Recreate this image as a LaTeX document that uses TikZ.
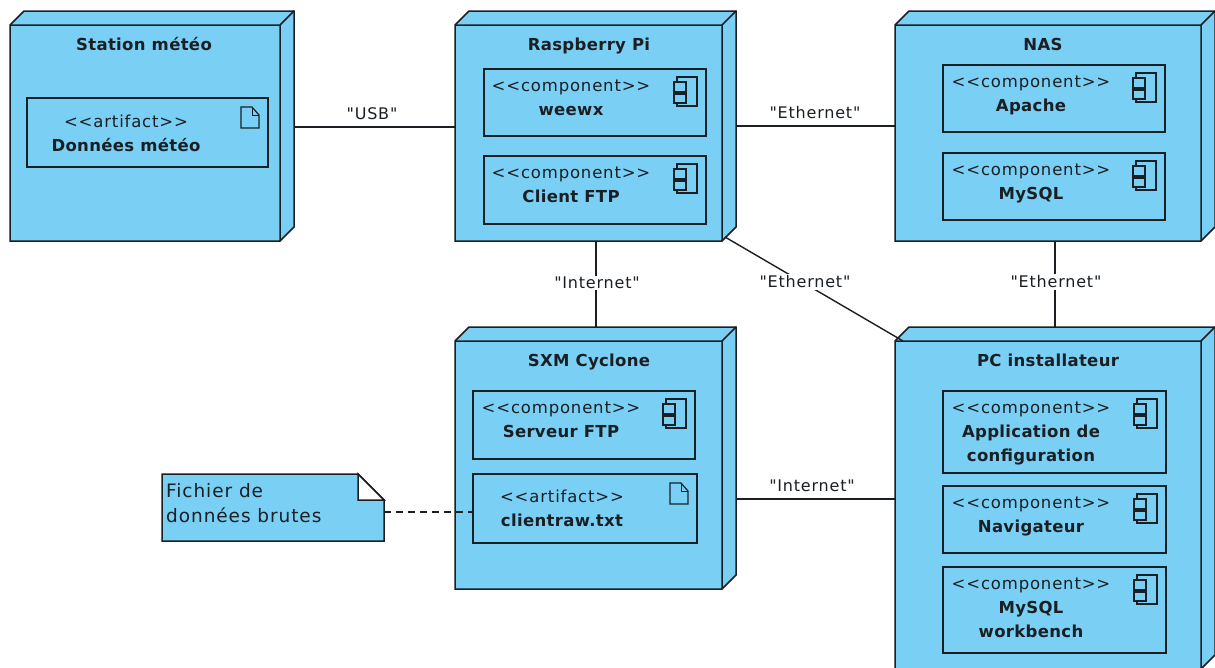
\documentclass[tikz,border=0pt]{standalone}
\usepackage{fontspec}
\newfontfamily\umlfont[LetterSpace=2]{DejaVu Sans}
\newfontfamily\labelfont[LetterSpace=5]{DejaVu Sans}
\usetikzlibrary{calc}
\definecolor{umlblue}{HTML}{7ACFF5}
\definecolor{umlline}{HTML}{1A1F24}
\tikzset{
  x=1pt,y=-1pt,
  edge/.style={draw=umlline,line width=1.4pt},
  face/.style={draw=umlline,line width=1.5pt,fill=umlblue,line join=miter},
  frame/.style={draw=umlline,line width=1.5pt,fill=umlblue,inner sep=0pt,outer sep=0pt,rectangle},
  hull/.style={inner sep=0pt,outer sep=0pt,rectangle},
  title/.style={font=\umlfont\fontsize{16.5}{24}\selectfont\bfseries,text=umlline,inner sep=0pt,align=center},
  stereo/.style={font=\labelfont\fontsize{16.5}{20}\selectfont,text=umlline,inner sep=0pt},
  conn/.style={font=\labelfont\fontsize{16}{18}\selectfont,text=umlline,inner sep=1.5pt},
  connfill/.style={conn,fill=white},
  icon/.style={draw=umlline,line width=1.1pt,fill=umlblue},
}
% id, x1, y1, x2, y2 of the front face, title centre x, title
\newcommand{\umlnode}[7]{%
  \pgfmathsetmacro{\cxv}{(#2+#4+14)/2}\pgfmathsetmacro{\cyv}{(#3+#5-14)/2}%
  \pgfmathsetmacro{\wv}{#4-#2+14}\pgfmathsetmacro{\hv}{#5-#3+14}%
  \node[hull,minimum width=\wv pt,minimum height=\hv pt] (#1) at (\cxv,\cyv) {};
  \draw[face] (#2,#3) -- (#2+14,#3-14) -- (#4+14,#3-14) -- (#4+14,#5-14) -- (#4,#5) -- (#2,#5) -- cycle;
  \draw[face,fill=none] (#2,#3) -- (#4,#3) -- (#4,#5) (#4,#3) -- (#4+14,#3-14);
  \node[title,anchor=base] (#1-title) at (#6,#3+25) {#7};
}
% id, x1, y1, x2, y2, text centre x, stereotype, name, vertical offset
\newcommand{\umlbox}[9]{%
  \pgfmathsetmacro{\cxv}{(#2+#4)/2}\pgfmathsetmacro{\cyv}{(#3+#5)/2}%
  \pgfmathsetmacro{\wv}{#4-#2}\pgfmathsetmacro{\hv}{#5-#3}%
  \node[frame,minimum width=\wv pt,minimum height=\hv pt] (#1) at (\cxv,\cyv) {};
  \node[stereo,anchor=base] (#1-st) at (#6,#3+22+#9) {<<#7>>};
  \node[title,anchor=north] (#1-nm) at (#6,#3+31+#9) {\vphantom{Ág}#8};
}
\newcommand{\compicon}[3]{%
  \draw[icon] (#1-29,#2+8) rectangle (#1-9,#2+37);
  \draw[icon] (#1-32,#2+13) rectangle (#1-20,#2+23);
  \draw[icon] (#1-32,#2+25) rectangle (#1-20,#2+34);
}
\newcommand{\artficon}[2]{%
  \draw[draw=umlline,line width=1.2pt,fill=none,line join=miter] (#1-27,#2+9) -- (#1-16,#2+9) -- (#1-9,#2+17) -- (#1-9,#2+30) -- (#1-27,#2+30) -- cycle;
  \draw[draw=umlline,line width=1pt] (#1-16,#2+9) -- (#1-16,#2+17) -- (#1-9,#2+17);
}
\begin{document}
\begin{tikzpicture}
\useasboundingbox (0,0) rectangle (1215,667);
\clip (0,0) rectangle (1215,667);
\fill[white] (0,0) rectangle (1215,667);

\umlnode{station}{10}{25}{280}{241}{144}{Station météo}
\umlbox{donnees}{27}{98}{268}{167}{126}{artifact}{Données météo}{7}
\artficon{268}{98}

\umlnode{rpi}{455}{25}{722}{241}{589}{Raspberry Pi}
\umlbox{weewx}{484}{69}{706}{136}{571}{component}{weewx}{0}
\compicon{706}{69}{}
\umlbox{ftpc}{484}{156}{706}{224}{571}{component}{Client FTP}{0}
\compicon{706}{156}{}

\umlnode{nas}{895}{25}{1201}{241}{1043}{NAS}
\umlbox{apache}{943}{65}{1165}{132}{1031}{component}{Apache}{0}
\compicon{1165}{65}{}
\umlbox{mysql}{943}{153}{1165}{220}{1031}{component}{MySQL}{0}
\compicon{1165}{153}{}

\umlnode{sxm}{455}{341}{722}{589}{589}{SXM Cyclone}
\umlbox{ftps}{473}{391}{695}{459}{561}{component}{Serveur FTP}{0}
\compicon{695}{391}{}
\umlbox{raw}{473}{474}{697}{543}{562}{artifact}{clientraw.txt}{6}
\artficon{697}{474}

\umlnode{pc}{895}{341}{1201}{669}{1048}{PC installateur}
\umlbox{appli}{943}{391}{1166}{473}{1031}{component}{Application de\\configuration}{0}
\compicon{1166}{391}{}
\umlbox{nav}{943}{486}{1166}{553}{1031}{component}{Navigateur}{0}
\compicon{1166}{486}{}
\umlbox{wb}{943}{567}{1166}{653}{1031}{component}{MySQL\\workbench}{0}
\compicon{1166}{567}{}

% note
\node[hull,minimum width=222pt,minimum height=67pt] (note) at (273,507.5) {};
\draw[face] (162,474) -- (358,474) -- (384,500) -- (384,541) -- (162,541) -- cycle;
\draw[face,fill=white] (358,474) -- (384,500) -- (358,500) -- cycle;
\node[anchor=west,font=\labelfont\fontsize{18.5}{25}\selectfont,text=umlline,inner sep=0pt,align=left] (notetext) at (166,503.5) {Fichier de\\données brutes};

% connectors
\draw[edge] ([yshift=-1pt]station.east) -- ([yshift=-1pt]rpi.west);
\draw[edge] (rpi.east) -- (nas.west);
\draw[edge] ([xshift=.5pt]rpi.south) -- ([xshift=.5pt]sxm.north);
\draw[edge] (nas.south) -- (pc.north -| nas.south);
\draw[edge] ($(sxm.east)+(0,41)$) -- ($(pc.west)+(0,1)$);
\draw[edge] ([shift={(-11pt,4pt)}]rpi.south east) -- ([shift={(8pt,-14pt)}]pc.north west);
\draw[edge,dashed,dash pattern=on 7pt off 5pt] ([yshift=-4.5pt]note.east) -- ([yshift=-3.5pt]raw.west);

% connector labels
\node[conn] (lusb) at (372,114) {"USB"};
\node[conn] (leth1) at (815,113) {"Ethernet"};
\node[connfill] (lnet1) at (597,283) {"Internet"};
\node[connfill] (leth2) at (805,282) {"Ethernet"};
\node[connfill] (leth3) at (1056,282) {"Ethernet"};
\node[conn] (lnet2) at (812,486) {"Internet"};
\end{tikzpicture}
\end{document}
